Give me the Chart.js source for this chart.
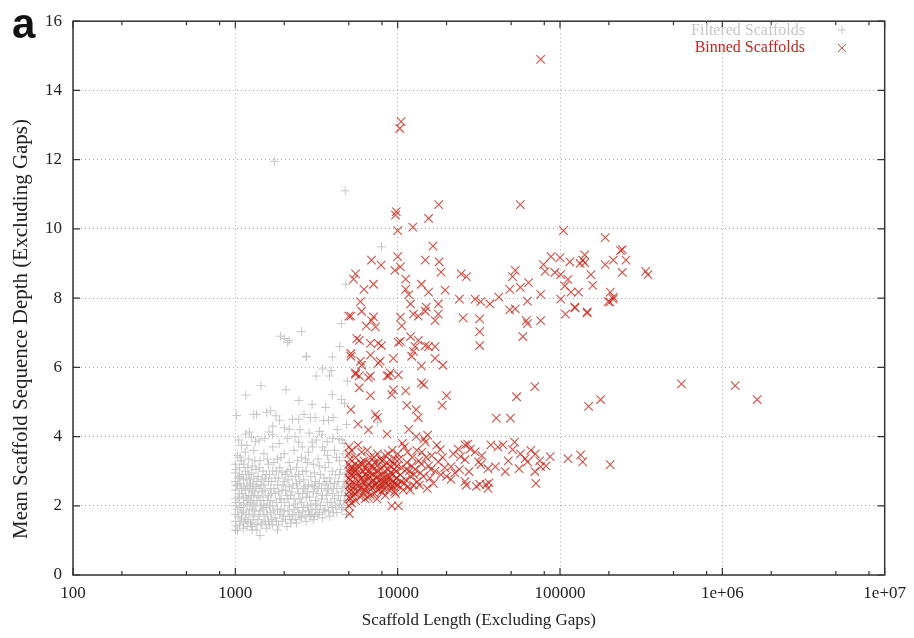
<!DOCTYPE html>
<html>
<head>
<meta charset="utf-8">
<script src="https://cdn.jsdelivr.net/npm/chart.js@4.4.1/dist/chart.umd.min.js"></script>
<style>
  html, body { margin: 0; padding: 0; background: #fff; }
  #wrap { width: 914px; height: 638px; }
</style>
</head>
<body>
<div id="wrap"><canvas id="scaffoldChart" width="914" height="638"></canvas></div>
<script>
// x tick positions / labels (log axis)
const xTickValues = [100, 1000, 10000, 100000, 1000000, 10000000];
const xTickLabels = ["100", "1000", "10000", "100000", "1e+06", "1e+07"];
const yTickValues = [0, 2, 4, 6, 8, 10, 12, 14, 16];

const seriesNames = ["Filtered Scaffolds", "Binned Scaffolds"];

// grey "+" points: [length, depth]
const filteredScaffolds = [
  [1740,11.95],[4750,11.1],[7950,9.48],[4800,8.4],[4500,7.26],[1900,6.9],[2150,6.78],[2560,7.03],
  [2730,6.3],[3950,6.3],[4400,6.6],[3450,5.95],[3900,5.9],[3150,5.75],[2000,6.83],[2100,6.72],
  [2750,6.32],[3800,5.75],[4700,4.95],[4900,5.6],[1160,5.2],[1440,5.47],[2050,5.35],[1650,4.75],
  [1300,4.64],[2460,5.04],[2970,4.93],[3600,4.84],[3950,5.21],[4500,5.07],[1020,4.61],[1870,4.47],
  [2460,4.5],[2900,4.55],[3750,4.47],[4350,3.93],[2150,4.21],[1610,4.13],[1220,4.13],[1400,3.9],
  [2460,3.84],[2970,3.84],[1350,4.64],[1560,4.7],[1780,4.6],[2250,4.5],[2650,4.64],[3100,4.55],
  [3500,4.46],[4000,4.55],[1700,4.3],[2000,4.25],[2500,4.2],[3300,4.15],[1160,4.07],[1260,3.98],
  [7500,4.4],[3000,3.7],[4600,3.5],
  [1050,3.9],[1180,3.75],[1330,3.85],[1520,3.95],[1690,4.05],[1860,3.8],[2100,3.95],[2330,4.0],
  [2580,3.7],[2850,4.1],[3150,3.9],[3420,4.05],[3680,3.85],[3980,3.95],[4250,4.2],[4550,3.9],
  [4850,4.35],[2700,3.35],[3550,3.6],[4200,3.4],
  [1000,1.3],[1000,1.55],[1000,1.75],[1000,2.0],[1000,2.2],[1000,2.45],[1000,2.7],[1000,2.95],
  [1000,3.2],[1030,1.28],[1030,1.9],[1030,2.6],[1030,3.45],[1060,1.45],[1060,2.1],[1060,2.35],
  [1060,2.85],[1060,3.1],[1090,1.65],[1090,2.5],[1090,3.3],[1090,3.75],
  [1120,1.35],[1120,1.85],[1120,2.2],[1120,2.75],[1150,1.6],[1150,2.45],[1150,3.0],[1150,3.55],
  [1180,1.4],[1180,2.0],[1180,2.6],[1210,1.75],[1210,2.3],[1210,2.9],[1210,3.35],[1240,1.5],
  [1240,2.1],[1240,2.65],[1270,1.3],[1270,1.9],[1270,2.45],[1270,3.15],[1300,1.7],[1300,2.25],
  [1300,2.8],[1300,3.6],
  [1340,1.45],[1340,2.0],[1340,2.55],[1340,3.05],[1380,1.6],[1380,2.3],[1380,2.85],[1420,1.14],
  [1420,1.85],[1420,2.15],[1420,3.3],[1460,1.5],[1460,2.4],[1460,2.75],[1500,1.7],[1500,2.05],
  [1500,2.6],[1500,3.5],[1550,1.35],[1550,1.95],[1550,2.9],[1600,1.55],[1600,2.3],[1600,2.7],
  [1600,3.2],
  [1650,1.8],[1650,2.15],[1650,2.5],[1700,1.45],[1700,2.0],[1700,3.0],[1700,3.7],[1760,1.65],
  [1760,2.35],[1760,2.8],[1820,1.3],[1820,1.9],[1820,2.6],[1820,3.35],[1880,1.75],[1880,2.2],
  [1880,3.1],[1940,1.55],[1940,2.45],[1940,2.95],[2000,1.85],[2000,2.1],[2000,2.7],[2000,3.5],
  [2080,1.4],[2080,2.3],[2080,3.0],[2150,1.7],[2150,2.0],[2150,2.55],[2150,3.25],[2230,1.6],
  [2230,2.4],[2230,2.85],[2300,1.9],[2300,2.2],[2300,3.6],[2380,1.5],[2380,2.65],[2380,3.1],
  [2460,1.8],[2460,2.35],[2460,2.9],[2550,1.65],[2550,2.1],[2550,3.4],[2640,1.95],[2640,2.5],
  [2640,2.75],
  [2730,1.55],[2730,2.25],[2730,3.0],[2820,1.85],[2820,2.6],[2820,3.55],[2920,1.7],[2920,2.05],
  [2920,2.85],[3020,1.6],[3020,2.4],[3020,3.2],[3120,1.9],[3120,2.15],[3120,2.7],[3230,1.75],
  [3230,2.5],[3230,3.35],[3340,2.0],[3340,2.9],[3450,1.65],[3450,2.3],[3450,3.7],
  [3570,1.85],[3570,2.6],[3570,3.1],[3690,2.1],[3690,2.45],[3690,3.45],[3820,1.7],[3820,2.8],
  [3950,1.95],[3950,2.35],[3950,3.0],[4080,2.2],[4080,2.65],[4080,3.6],[4220,1.8],[4220,2.5],
  [4370,2.05],[4370,2.9],[4370,3.3],[4520,1.9],[4520,2.4],[4680,2.15],[4680,2.7],[4680,3.8],
  [4840,1.75],[4840,2.55],[4840,3.15],[4960,2.0],[4960,2.85],
  [1010,1.42],[1010,2.1],[1010,2.58],[1010,3.05],[1040,1.7],[1040,2.25],[1040,2.8],[1070,1.55],
  [1070,1.95],[1070,2.65],[1070,3.4],[1100,1.8],[1100,2.35],[1100,2.9],[1130,1.5],[1130,2.05],
  [1130,2.55],[1130,3.2],[1165,1.75],[1165,2.25],[1165,2.8],[1195,1.55],[1195,2.15],[1195,3.1],
  [1225,1.9],[1225,2.5],[1225,2.75],[1255,1.4],[1255,2.3],[1255,2.95],[1285,1.6],[1285,2.05],
  [1285,2.6],[1320,1.85],[1320,2.4],[1320,3.3],[1360,1.3],[1360,2.15],[1360,2.7],[1400,1.75],
  [1400,2.5],[1400,3.1],[1440,1.45],[1440,2.0],[1440,2.6],[1480,1.9],[1480,2.25],[1480,3.0],
  [1525,1.55],[1525,2.45],[1525,2.8],[1575,1.75],[1575,2.15],[1575,3.35],[1625,1.45],[1625,2.0],
  [1625,2.9],[1675,1.6],[1675,2.35],[1675,2.7],[1730,1.85],[1730,2.5],[1730,3.25],[1790,1.55],
  [1790,2.1],[1790,3.0],[1850,1.45],[1850,2.4],[1850,2.8],[1910,1.9],[1910,2.2],[1910,3.4],
  [1970,1.7],[1970,2.6],[2040,1.6],[2040,2.45],[2040,2.9],[2110,1.85],[2110,2.2],[2110,2.75],
  [2190,1.5],[2190,2.3],[2190,3.05],[2260,1.75],[2260,2.6],[2340,1.6],[2340,2.05],[2340,2.85],
  [2420,1.95],[2420,2.5],[2420,3.3],[2500,1.7],[2500,2.2],[2500,2.7],[2600,1.85],[2600,2.35],
  [2600,3.0],[2690,1.7],[2690,2.55],[2780,2.0],[2780,2.4],[2780,3.25],[2870,1.75],[2870,2.25],
  [2970,1.9],[2970,2.6],[3070,1.7],[3070,2.55],[3070,2.95],[3180,2.05],[3180,2.35],[3290,1.8],
  [3290,2.65],[3290,3.15],[3400,2.2],[3400,2.5],[3510,1.9],[3510,2.8],[3630,2.3],[3630,2.7],
  [3760,1.85],[3760,2.5],[3760,3.25],[3880,2.1],[3880,2.65],[4010,1.8],[4010,2.5],[4150,2.0],
  [4150,2.9],[4300,2.3],[4300,2.7],[4450,2.15],[4450,3.05],[4600,1.95],[4600,2.55],[4760,2.3],
  [4760,2.95],[4900,2.1],[4900,2.6]
];

// red "x" points: [length, depth]
const binnedScaffolds = [
  // high outliers
  [76000,14.9],[10500,13.1],[10300,12.9],[9800,10.5],[9700,10.4],[15500,10.3],[17900,10.7],
  [10000,9.95],[12400,10.05],[57000,10.7],[105000,9.95],[190000,9.75],[16500,9.5],
  // 5k-20k, depth 7-9
  [6900,9.1],[7900,8.95],[10000,9.2],[9600,8.8],[10400,8.9],[14800,9.1],[18000,9.05],[18500,8.75],
  [5500,8.7],[5350,8.55],[11200,8.55],[24600,8.7],[26500,8.62],[53000,8.8],[51000,8.62],[64000,8.45],
  [7100,8.4],[6200,8.25],[11200,8.25],[14000,8.4],[11700,8.1],[19600,8.23],[15500,8.17],[5900,7.9],
  [6000,7.62],[5000,7.48],[6900,7.35],[7300,7.17],[10400,7.45],[13400,7.48],[15000,7.74],[14800,7.62],
  [17800,7.83],[17800,7.54],[17000,7.35],[12000,7.83],[12500,7.54],[10600,7.2],[10100,6.72],
  // 20k-350k, depth 7.5-9.4
  [24000,7.97],[30000,7.97],[32500,7.9],[37000,7.83],[42000,8.03],[49000,8.25],[57000,8.31],
  [53000,7.69],[49000,7.66],[63000,7.91],[76000,8.11],[101000,7.97],[108000,7.54],[123000,7.74],
  [147000,7.6],[213000,8.03],[203000,7.89],[79000,8.97],[88000,9.2],[81000,8.77],[93000,8.74],
  [101000,8.68],[112000,8.54],[138000,9.1],[142000,9.02],[155000,8.68],[190000,8.97],[213000,9.1],
  [242000,9.4],[242000,8.74],[255000,9.1],[337000,8.77],[348000,8.68],[115000,9.05],[100000,9.17],
  [107000,8.35],[117000,8.17],[130000,8.17],[159000,8.37],[204000,8.17],[213000,7.97],[198000,7.9],
  [124000,7.72],[147000,7.57],[142000,9.25],[133000,9.0],[236000,9.37],
  [25300,7.43],[32000,7.4],[32000,7.03],[32000,6.63],[62000,7.35],[63000,7.26],[59000,6.89],[76000,7.35],
  // 5k-20k, depth 5.5-7
  [5600,6.83],[5800,6.78],[5150,6.32],[6000,6.06],[6800,6.35],[7600,6.69],[7950,6.63],[10400,6.75],
  [12000,6.89],[13400,6.78],[12800,6.6],[14800,6.63],[15500,6.6],[17000,6.6],[12500,6.46],[12200,6.32],
  [9400,6.26],[7600,6.12],[9000,5.84],[10100,5.78],[14000,6.04],[19000,6.06],[17000,6.26],[6800,5.75],
  [5800,5.75],[14000,5.55],[5150,7.48],[6400,7.2],[7100,7.46],[6800,6.69],[5150,6.4],[5900,6.18],
  [7800,6.18],[5500,5.84],[6600,5.7],[8800,5.75],
  // 4-5.8
  [5150,4.78],[7300,4.64],[7500,4.55],[5700,4.36],[6600,4.19],[11400,4.9],[13000,4.78],[9400,5.35],
  [9200,5.21],[6800,5.18],[5800,5.41],[5500,5.8],[8600,5.75],[11200,5.32],[13400,4.55],
  [14500,5.5],[20000,5.18],[18800,4.9],[54000,5.15],[70000,5.44],[40500,4.53],[49500,4.53],
  [150000,4.87],[178000,5.07],[560000,5.52],[1200000,5.47],[1640000,5.07],
  // dense core 5k-20k, depth 1.8-4.2
  [5000,2.0],[5000,2.4],[5000,2.8],[5000,3.2],[5000,3.5],[5050,1.77],[5050,2.6],[5050,3.0],
  [5100,2.2],[5100,3.35],[5150,2.45],[5150,2.9],[5200,2.08],[5200,3.6],[5250,2.7],[5300,2.3],
  [5300,3.1],[5400,2.55],[5400,2.95],[5500,2.15],[5500,3.4],[5600,2.75],[5600,3.05],[5700,2.4],
  [5700,3.75],[5800,2.6],[5800,2.9],[5900,2.25],[5900,3.25],
  [6000,2.5],[6000,2.8],[6000,3.55],[6100,2.35],[6100,3.0],[6200,2.65],[6200,3.3],[6300,2.2],
  [6300,2.9],[6400,2.55],[6400,3.15],[6500,2.75],[6500,3.6],[6600,2.4],[6600,3.0],[6700,2.6],
  [6700,2.85],[6800,2.3],[6800,3.4],[6900,2.7],[7000,2.5],[7000,3.1],[7100,2.9],[7200,2.35],
  [7200,3.25],[7300,2.65],[7400,2.8],[7500,2.45],[7500,3.5],[7600,3.0],[7700,2.6],[7800,2.75],
  [7800,3.35],[7900,2.4],
  [8000,2.9],[8100,2.55],[8200,3.15],[8300,2.7],[8400,2.3],[8400,3.45],[8500,2.85],[8600,4.07],
  [8700,2.6],[8800,3.05],[8900,2.45],[9000,2.75],[9100,3.3],[9200,2.0],[9300,2.9],[9400,2.55],
  [9500,3.2],[9600,2.65],[9700,2.35],[9800,3.0],[9900,2.8],[10000,3.5],[10100,2.0],[10100,2.6],
  [10400,2.9],[10600,3.1],[10800,2.45],[11000,3.7],[11200,2.75],[11400,3.25],[11600,2.55],[11700,4.21],
  [11800,3.0],[12000,2.85],[12300,3.4],[12500,2.6],[12800,3.05],[13000,4.0],[13200,2.7],[13500,3.3],
  [13800,2.95],[14100,3.55],[14500,3.93],[14800,3.84],[15200,2.5],[15300,4.04],[15500,3.15],[15800,2.8],
  [16200,3.45],[16600,2.65],[17000,3.0],[17400,3.75],[17800,3.27],[18300,3.62],[18500,2.9],[18900,3.4],
  [19500,3.1],[20000,2.85],
  [5020,2.25],[5020,3.7],[5080,2.75],[5120,3.1],[5180,2.55],[5230,3.0],[5280,2.4],[5350,2.85],
  [5450,3.2],[5450,2.35],[5550,2.6],[5650,2.95],[5750,3.15],[5850,2.5],[5950,2.8],[6050,3.2],
  [6150,2.7],[6250,2.45],[6350,3.05],[6450,2.85],[6550,2.25],[6650,3.25],[6750,2.95],[6850,2.55],
  [6950,3.15],[7050,2.75],[7150,3.4],[7250,2.6],[7350,3.0],[7450,2.2],[7550,2.85],[7650,3.2],
  [7750,2.5],[7850,3.05],[7950,2.65],[8050,3.3],[8150,2.8],[8250,2.45],[8350,3.0],[8450,2.65],
  [8550,3.25],[8650,2.75],[8750,3.5],[8850,2.85],[8950,3.15],[9050,2.55],[9150,2.95],[9250,3.6],
  [9350,2.7],[9450,3.05],[9550,2.4],[9650,3.35],[9750,2.8],[9850,2.6],[9950,3.15],[10200,3.35],
  [10500,2.7],[10700,3.8],[11000,2.65],[11300,3.05],[11500,3.55],[11900,2.45],[12200,3.15],[12600,2.9],
  [13100,3.6],[13600,2.6],[14000,3.2],[14400,2.85],[15000,3.4],[16000,3.05],
  // 20k-200k, depth 2.5-4
  [21300,2.76],[26000,2.7],[26500,2.6],[30500,2.56],[35000,2.62],[36500,2.66],[23600,3.64],[26000,3.76],
  [27000,3.78],[28000,3.64],[30000,3.56],[24400,3.42],[26000,3.33],[31600,3.27],[32500,3.19],[21300,3.13],
  [22500,2.95],[27500,2.99],[37500,3.76],[41500,3.7],[44500,3.76],[52500,3.84],[51000,3.62],[57000,3.5],
  [61000,3.36],[63000,3.27],[70500,3.5],[76000,3.13],[70000,2.99],[71000,2.65],[87000,3.42],[75000,3.3],
  [56000,3.07],[40000,3.13],[36000,3.07],[46000,2.99],[112000,3.36],[134000,3.47],[138000,3.27],[204000,3.19],
  [32000,2.62],[36000,2.5],[22000,3.5],[24000,3.05],[33000,3.45],[48000,3.3],[66000,3.6],[82000,3.15]
];

const greyColor = "#c6c6c6";
const redColor = "rgba(200,36,24,0.8)";
const serif = "'Liberation Serif', 'Times New Roman', serif";

function toPoints(rows) {
  return rows.map(r => ({ x: r[0], y: r[1] }));
}

// frame, inward ticks, legend, panel letter, y title
const decorations = {
  id: "decorations",
  afterDraw(chart) {
    const ctx = chart.ctx;
    const area = chart.chartArea;
    const xs = chart.scales.x;
    const ys = chart.scales.y;
    ctx.save();
    ctx.strokeStyle = "#333";
    ctx.lineWidth = 1.5;
    ctx.strokeRect(area.left, area.top, area.right - area.left, area.bottom - area.top);

    ctx.lineWidth = 1.2;
    ctx.beginPath();
    xTickValues.forEach((v, i) => {
      const px = xs.getPixelForValue(v);
      ctx.moveTo(px, area.bottom); ctx.lineTo(px, area.bottom - 7);
      ctx.moveTo(px, area.top); ctx.lineTo(px, area.top + 7);
      if (i < xTickValues.length - 1) {
        [2, 5, 8].forEach(m => {
          const mx = xs.getPixelForValue(v * m);
          ctx.moveTo(mx, area.bottom); ctx.lineTo(mx, area.bottom - 4);
          ctx.moveTo(mx, area.top); ctx.lineTo(mx, area.top + 4);
        });
      }
    });
    yTickValues.forEach(v => {
      const py = ys.getPixelForValue(v);
      ctx.moveTo(area.left, py); ctx.lineTo(area.left + 7, py);
      ctx.moveTo(area.right, py); ctx.lineTo(area.right - 7, py);
    });
    ctx.stroke();

    // legend (text left of marker, like gnuplot)
    ctx.font = "16px " + serif;
    ctx.textAlign = "right";
    ctx.textBaseline = "middle";
    ctx.fillStyle = greyColor;
    ctx.fillText(seriesNames[0], 805, 31);
    ctx.fillStyle = "#c0281e";
    ctx.fillText(seriesNames[1], 805, 48);
    ctx.lineWidth = 1;
    ctx.strokeStyle = greyColor;
    ctx.beginPath();
    ctx.moveTo(838, 30); ctx.lineTo(846, 30);
    ctx.moveTo(842, 26); ctx.lineTo(842, 34);
    ctx.stroke();
    ctx.strokeStyle = redColor;
    ctx.beginPath();
    ctx.moveTo(838, 44); ctx.lineTo(846, 52);
    ctx.moveTo(846, 44); ctx.lineTo(838, 52);
    ctx.stroke();

    // panel letter
    ctx.fillStyle = "#111";
    ctx.textAlign = "left";
    ctx.textBaseline = "alphabetic";
    ctx.font = "bold 42px 'Liberation Sans', Arial, sans-serif";
    ctx.fillText("a", 12, 38);

    // y axis title
    ctx.translate(21, 329);
    ctx.rotate(-Math.PI / 2);
    ctx.textAlign = "center";
    ctx.textBaseline = "middle";
    ctx.font = "21px " + serif;
    ctx.fillStyle = "#222";
    ctx.fillText("Mean Scaffold Sequence Depth (Excluding Gaps)", 0, 0);
    ctx.restore();
  }
};

let scaffoldChart = new Chart(document.getElementById("scaffoldChart").getContext("2d"), {
  type: "scatter",
  data: {
    datasets: [
      {
        label: seriesNames[1],
        data: toPoints(binnedScaffolds),
        pointStyle: "crossRot",
        pointRadius: 6,
        pointBorderWidth: 1.1,
        borderColor: redColor,
        backgroundColor: redColor,
        order: 0,
      },
      {
        label: seriesNames[0],
        data: toPoints(filteredScaffolds),
        pointStyle: "cross",
        pointRadius: 4.5,
        pointBorderWidth: 1,
        borderColor: greyColor,
        backgroundColor: greyColor,
        order: 1,
      },
    ],
  },
  options: {
    responsive: false,
    animation: false,
    layout: { padding: { top: 13, right: 27, left: 0, bottom: 0 } },
    plugins: {
      legend: { display: false },
      tooltip: { enabled: false },
    },
    scales: {
      x: {
        type: "logarithmic",
        min: 100,
        max: 10000000,
        afterBuildTicks: (scale) => {
          scale.ticks = xTickValues.map(v => ({ value: v }));
        },
        afterFit: (scale) => { scale.height = 63; },
        ticks: {
          autoSkip: false,
          maxRotation: 0,
          padding: 8,
          color: "#222",
          font: { family: serif, size: 17 },
          callback: (value) => {
            const i = xTickValues.indexOf(value);
            return i >= 0 ? xTickLabels[i] : "";
          },
        },
        grid: {
          drawTicks: false,
          color: "#a8a8a8",
          lineWidth: 1,
        },
        border: { display: false, dash: [1, 3] },
        title: {
          display: true,
          text: "Scaffold Length (Excluding Gaps)",
          color: "#222",
          font: { family: serif, size: 17 },
          padding: { top: 0, bottom: 7 },
        },
      },
      y: {
        min: 0,
        max: 16,
        afterBuildTicks: (scale) => {
          scale.ticks = yTickValues.map(v => ({ value: v }));
        },
        afterFit: (scale) => { scale.width = 73; },
        ticks: {
          padding: 11,
          color: "#222",
          font: { family: serif, size: 17 },
        },
        grid: {
          drawTicks: false,
          color: "#a8a8a8",
          lineWidth: 1,
        },
        border: { display: false, dash: [1, 3] },
      },
    },
  },
  plugins: [decorations],
});
</script>
</body>
</html>
